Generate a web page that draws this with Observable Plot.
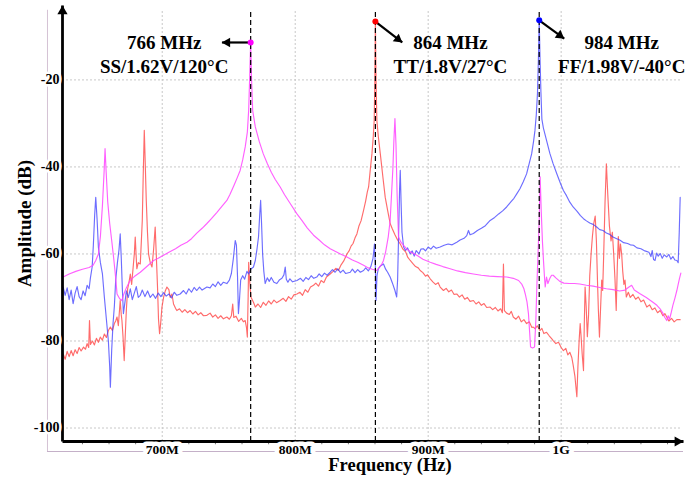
<!DOCTYPE html>
<html>
<head>
<meta charset="utf-8">
<script src="https://cdn.jsdelivr.net/npm/d3@7"></script>
<script src="https://cdn.jsdelivr.net/npm/@observablehq/plot@0.6"></script>
<style>
  html, body { margin: 0; padding: 0; background: #fff; }
  #chart { width: 686px; height: 482px; }
</style>
</head>
<body>
<div id="chart"></div>
<script>
// ---- Data (frequency in MHz, amplitude in dB) ----
const xTicks = [700, 800, 900, 1000];
const xTickLabels = ["700M", "800M", "900M", "1G"];
const yTicks = [-20, -40, -60, -80, -100];
const minorTicks = [640, 660, 680, 700, 720, 740, 760, 780, 800, 820, 840, 860, 880, 900, 920, 940, 960, 980, 1000, 1020, 1040, 1060, 1080];

const peakFreq = [766.5, 860.3, 983.5];
const peakDb = [-11.4, -6.6, -6.3];
const peakLabels = ["766 MHz\nSS/1.62V/120°C", "864 MHz\nTT/1.8V/27°C", "984 MHz\nFF/1.98V/-40°C"];

// SS corner (magenta)
const ssData = [
[625.5,-65.3],[630,-64.6],[635,-64],[640,-63.5],[645,-63.1],[648,-62.6],[650,-61.5],[652,-60],[653.5,-56],[655,-49],
[656.3,-41],[657,-35.8],[657.8,-41],[659,-48],[660.5,-53],[662,-56.9],[663.5,-61],[665,-65.5],[666,-69.2],[668,-70.3],
[669.7,-70.7],[671,-69.3],[673,-67.8],[676,-66],[679,-65.2],[683.5,-64.2],[688,-63],[693.5,-61.5],[697,-61],[701,-60.3],
[705,-59.6],[710,-58.8],[714,-58],[718.6,-57.3],[722,-56.5],[726,-55.2],[730,-54.1],[733.6,-53],[737,-51.9],[741,-50.5],
[745,-49],[748.6,-47.7],[751,-46.3],[754,-44.2],[756.5,-42.4],[758.6,-40.8],[760.5,-38.4],[762.4,-35.4],[764,-32],[765,-27],
[765.7,-20],[766.5,-11.4],[767.2,-20],[768,-27],[770,-30.8],[773,-34.2],[776,-37],[779,-39.2],[782,-41.2],[785,-42.9],
[788.7,-44.6],[792,-46.4],[796,-48.3],[801.3,-50.8],[805,-52.3],[809,-54],[813.8,-55.7],[818,-56.8],[822,-57.9],[826.3,-58.8],
[830,-59.4],[834,-60],[838.9,-60.7],[843,-61.4],[847,-61.9],[851.4,-62.6],[855,-63.2],[858,-63.5],[861.4,-63.8],[863,-63.2],
[865,-62.4],[866.4,-61.5],[868,-59.5],[870,-56],[871.4,-52.3],[872.5,-46],[873.5,-40],[874.2,-34],[875,-28.9],[875.8,-35],
[876.6,-46],[877.7,-56.1],[879.5,-57.3],[881.5,-58],[884,-58.9],[887,-59.6],[891.5,-60.3],[896,-61.2],[901.5,-61.9],[906,-62.4],
[911,-62.9],[916.5,-63.4],[922,-63.9],[928,-64.3],[934,-64.6],[940,-64.9],[946,-65.1],[952,-65.2],[959,-65.3],[964,-65.6],
[968,-66.1],[970.5,-67],[972,-68],[973,-69.2],[974.3,-71],[975.4,-73.7],[976.3,-78],[977,-81.4],[978.5,-81.6],[980,-81.4],
[981,-75],[981.7,-67.6],[982.6,-60],[983.5,-52.3],[984.2,-42.3],[985,-50],[985.9,-57],[986.7,-61.5],[987.4,-65],[988,-67.6],
[989,-65.3],[990,-66.8],[991.5,-65.6],[992.8,-64.9],[994,-64.9],[996,-65.5],[999,-66.3],[1002,-66.7],[1006,-66.8],[1010,-66.8],
[1014,-66.9],[1019,-67.2],[1024,-67.4],[1029,-67.7],[1034,-68],[1039,-68.2],[1044,-68.5],[1048,-68.3],[1051,-67.6],[1053,-67.2],
[1055,-68.3],[1059,-69.1],[1064,-70],[1069,-71.1],[1072,-71.8],[1074.4,-72.6],[1076.5,-73.6],[1078,-74.6],[1079.4,-75.3],[1080.5,-74.2],
[1081.5,-75],[1082.5,-73.8],[1084,-71.8],[1085.5,-70.2],[1087,-68.4],[1088,-67],[1089,-65.6],[1090,-64.4]
];

// TT corner (red)
const ttData = [
[625.5,-83],[627,-84.2],[628.5,-82.4],[630,-83.6],[631.5,-82.2],[633,-83.4],[634.5,-82],[636,-82.9],[637.5,-81.5],[639,-82.3],
[640.8,-81.4],[642.3,-81.9],[643.5,-80.6],[644.7,-81.5],[645.3,-75.3],[646,-80.8],[647.5,-80],[649,-80.9],[650.5,-79.4],[652,-80.3],
[653.4,-79.1],[655,-79.8],[656.5,-78.4],[658,-79.2],[659.5,-77.6],[661,-76.8],[662.5,-77.6],[664,-76],[665,-75.4],[666,-74.5],
[667,-76.5],[668.4,-70.7],[669.2,-74],[669.7,-75.3],[670.5,-79],[671.4,-84.5],[672.3,-78],[673,-73],[674,-68],[675,-66.5],
[676,-64.6],[677,-67],[678,-63.5],[679,-60],[679.7,-56.1],[680.3,-60],[680.9,-63.4],[682,-62],[683.5,-62.3],[684.3,-57],
[685,-52.3],[685.7,-42],[686.5,-31.6],[687.3,-40],[688,-47.7],[688.9,-55],[689.7,-60],[691,-62],[692.3,-63],[693.5,-59],
[694.7,-53.8],[695.5,-60],[696.5,-68],[697.2,-75],[698,-78.3],[698.8,-76],[699.8,-72.2],[701,-70],[702.3,-68.5],[703.5,-67.6],
[705,-68.2],[706,-70],[707.3,-69.2],[708.5,-71.5],[710,-72.5],[711,-73],[713,-72.6],[715,-73.4],[717,-72.8],[719,-73.5],
[721,-73],[723,-73.8],[725,-73.2],[727,-74],[729,-73.5],[731,-74.2],[733.6,-74.1],[736,-73.6],[738,-74.5],[740,-74],
[742,-74.8],[744,-74.2],[746,-74.9],[748.6,-74.5],[750.5,-75],[752,-74.2],[753,-71.5],[753.8,-74.6],[755.5,-74.3],[757.5,-75.5],
[759.5,-74.8],[761,-75.6],[762.4,-75.3],[763.4,-77],[764,-79.1],[764.6,-70],[765,-61.9],[765.7,-66],[766.7,-69.9],[768.6,-71.1],
[770,-72.2],[772,-71.5],[774,-72.3],[776,-71.1],[778,-71.8],[780,-70.8],[782,-71.5],[784,-70.6],[786,-71.2],[788.7,-70.7],
[791,-70.2],[793,-70.9],[795,-69.8],[797,-70.4],[799,-69.4],[801.3,-69.2],[803.5,-68.8],[805.5,-69.5],[807.5,-68.2],[809.5,-68.8],
[811.5,-67.6],[813.8,-67.2],[815.5,-66.7],[817.5,-67.4],[819.5,-66.1],[821.5,-66.6],[823.5,-65.3],[826.3,-64.6],[828.5,-64],[830.5,-63.3],
[832.5,-63.8],[834.5,-62.5],[836.5,-61.6],[838.9,-60],[840.5,-59.3],[842,-58.2],[843.5,-57.6],[845,-56.3],[846.4,-55.4],[848,-53.5],
[849.5,-52.4],[851.4,-50],[853,-47.8],[854.2,-45.8],[855.2,-44.6],[856.5,-40.5],[857.7,-37],[858.7,-33],[859.4,-29.3],[859.9,-20],
[860.3,-6.6],[860.8,-20],[861.4,-29.3],[862.5,-33],[864,-37],[866,-42.5],[867.7,-47],[869.5,-50],[871.4,-53],[873,-54.2],
[875,-55.6],[877,-56.8],[879,-57.7],[881,-58.9],[883,-59.5],[884.7,-60.8],[886.5,-61.5],[888.5,-62.2],[890.5,-62.9],[892.5,-63.2],
[894,-63.8],[896,-64.3],[898,-65.1],[899.5,-64.8],[901.5,-65.7],[903.5,-66.4],[905.5,-67],[907.5,-66.6],[909,-67.6],[911.5,-68.4],
[913.5,-67.9],[915.5,-68.7],[917.5,-68.3],[919.5,-69.3],[921.5,-69.2],[923.5,-69.9],[925.5,-69.4],[927.5,-70.4],[929.5,-70],[931.5,-70.9],
[934,-70.7],[936,-71.5],[938,-71],[940,-71.8],[942,-71.4],[944,-72.3],[946.6,-72.2],[948.5,-72.8],[950.5,-72.3],[952.5,-73.1],
[954.5,-72.6],[955.8,-73.5],[956.6,-62.3],[957.3,-73],[959,-73.6],[961,-73.9],[962.5,-73.2],[964,-74.5],[966,-75],[968,-74.3],
[970,-75.6],[972,-75.1],[974,-76],[976,-75.6],[978,-76.9],[979,-76.8],[980.5,-77.2],[982,-76.5],[984,-77.6],[985.5,-77.1],
[987,-78.3],[989,-78],[991,-78.8],[993,-79.5],[994,-79.9],[996,-80.6],[998,-80.3],[1000,-81.5],[1001.7,-82.2],[1003.5,-81.7],
[1005,-83.2],[1006.5,-82.6],[1008,-83.8],[1009,-85.5],[1010.3,-88],[1011.8,-92.8],[1012.6,-86],[1013.5,-80],[1014.3,-76],[1015,-79],
[1015.8,-83],[1016.8,-86.8],[1017.4,-76],[1018,-67.6],[1018.8,-72],[1019.7,-79],[1020.6,-74],[1021.5,-65],[1022.5,-60],[1023.5,-56],
[1024.5,-53],[1025.6,-51.3],[1026.5,-57],[1027.3,-66],[1028,-73],[1028.8,-79.1],[1029.7,-72],[1030.5,-66],[1031.2,-68.4],[1032,-60],
[1033,-48],[1034,-39.3],[1035,-46],[1036.3,-53.6],[1037.5,-57],[1038.5,-55],[1039.5,-60],[1040.5,-66],[1041.4,-73],[1042.2,-63],
[1043,-56],[1043.8,-61],[1044.6,-57.7],[1045.5,-60],[1046.3,-64],[1047.2,-67],[1048,-66],[1049,-69.9],[1050.5,-68.8],[1052,-70],
[1054,-69.3],[1056,-70.4],[1058,-69.9],[1060,-71],[1062,-70.6],[1064.4,-72.2],[1066.5,-71.7],[1068.5,-72.8],[1070.5,-72.4],[1072.5,-73.5],
[1074.5,-73],[1076.5,-74.2],[1078,-73.7],[1079.4,-74.5],[1081,-75.4],[1083,-74.8],[1085,-75.6],[1087,-75.1],[1089.5,-75.1]
];

// FF corner (blue)
const ffData = [
[625.5,-67.6],[627,-69.5],[628.5,-67.8],[630,-70.5],[631.5,-68.3],[633,-71.4],[634.5,-69],[636,-67.5],[637.5,-69.8],[639,-70.5],
[640.5,-68.5],[642,-69.6],[643.5,-67.2],[645,-68],[646,-65.5],[647.3,-63],[648.2,-58],[649.2,-51],[650,-47],[651,-52],
[652,-58.5],[653.5,-62],[655,-64.5],[656.5,-70],[658,-75],[659.5,-80],[660.5,-86],[661,-90.6],[662,-82],[663,-76],
[664,-72],[665,-66],[666.3,-62],[667.5,-59],[668.4,-55.4],[669.2,-61],[670,-68],[670.8,-73.7],[672,-71],[673,-68.5],
[674.5,-70],[676,-68],[677.5,-70.5],[679,-69],[680.5,-67.5],[682,-70],[683.5,-69.5],[685,-68.3],[687,-69.8],[689,-68.5],
[691,-70],[693,-69.2],[695,-70.2],[697,-69],[699,-69.8],[701,-68.9],[703,-69.7],[705,-69.2],[707,-70.1],[709,-68.8],
[711,-69.5],[713.5,-69.2],[716,-68.4],[718,-69.2],[720,-68],[722,-68.8],[724,-67.7],[726,-68.4],[728,-67.6],[730,-68.3],
[733.6,-67.6],[736,-67.8],[738,-66.9],[740,-67.5],[742,-66.4],[744,-67.2],[746,-66.5],[748.6,-66.8],[750.5,-66],[752,-64.5],
[753.5,-61],[754.9,-56.9],[755.8,-58],[756.6,-65],[757.3,-73.7],[758,-71],[759,-66],[760.5,-65],[762,-65.8],[763.7,-64],
[765,-64.6],[766.5,-63.5],[768.6,-63],[770,-61.5],[771.2,-59],[772.4,-56.1],[773.3,-51],[774,-47.7],[774.7,-53],[775.5,-60],
[776.4,-64],[777.4,-66.8],[779,-65.5],[780.5,-66.3],[782,-65.4],[784,-66.5],[786.2,-66.8],[788,-66],[790,-65.6],[791.5,-64.8],
[792.5,-63],[793.3,-65.8],[794.5,-66.5],[796,-65.7],[798,-66.4],[801.3,-66.1],[804,-65.6],[806,-66.3],[808,-65.4],[810,-65.9],
[812,-65],[814,-65.6],[816.2,-65.3],[818,-64.6],[820,-65.2],[822,-64.4],[824,-64.9],[826.3,-64.2],[828,-63.6],[830,-64.2],
[832,-63.4],[834,-64.3],[836,-63.7],[838,-64.5],[841.4,-64.2],[843,-63.5],[845,-64.3],[847,-63.6],[849,-64.2],[851.4,-63.8],
[853,-63.2],[855,-63.9],[857,-62.8],[858.5,-61],[859.6,-57.7],[860.3,-63],[860.8,-70.7],[861.5,-65],[862.5,-63.4],[864,-62.8],
[866.4,-62.3],[868,-63.5],[869.5,-64.2],[871.4,-65.3],[873,-66.6],[875,-68.4],[876.3,-69.9],[877,-66],[877.8,-55],[878.5,-45],
[879,-40.8],[879.6,-48],[880.3,-55],[881.5,-58.4],[883,-59.2],[884.5,-58.6],[886.5,-60],[888,-59.3],[889.5,-60.5],[891,-59.2],
[893,-60],[894.5,-58.9],[896.4,-58.8],[898,-59.3],[900,-58.4],[902,-58.9],[904,-58.2],[906,-58.7],[909,-58.4],[912,-58],
[915,-57.7],[918,-57.9],[921.5,-57.3],[924,-56.8],[927,-56.4],[929,-55.8],[930.3,-54.6],[931.5,-55.6],[934,-55.3],[937,-54.6],
[940,-54.1],[943,-53.5],[946.6,-52.3],[950,-51.6],[953,-50.8],[956,-50.1],[959,-49.2],[962,-48.1],[964.5,-47.2],[966.6,-46.2],
[969,-45],[971.5,-43.4],[974,-41.6],[976,-39.2],[977.8,-37],[979.3,-34],[980.3,-31.6],[981.3,-28],[982.2,-23],[982.9,-15],
[983.5,-6.3],[984.1,-15],[984.8,-23],[985.5,-29],[986.6,-31],[989,-33.9],[991.5,-36.9],[994,-39.3],[997,-41.8],[999.5,-43.8],
[1001.7,-45.4],[1004,-46.6],[1006.5,-48.1],[1009,-49.2],[1012,-50.2],[1014.5,-51.2],[1016.8,-51.9],[1019,-52.4],[1021.5,-52.9],[1024,-53.2],
[1026.7,-53.8],[1029,-54.4],[1031.5,-54.6],[1034,-55.2],[1036.5,-55.5],[1039,-56.1],[1041.8,-56.5],[1044,-56.8],[1047,-57.4],[1050,-57.6],
[1052,-57.9],[1054.4,-58],[1057,-58.6],[1060,-58.8],[1063,-59.3],[1066,-59.6],[1067.5,-60.6],[1068.5,-59.2],[1069.5,-61.3],[1070.6,-61.5],
[1071.8,-59.8],[1073,-60.5],[1074.5,-59.9],[1076,-61],[1077.5,-60.2],[1079.4,-60.7],[1081,-60.1],[1082.5,-61.2],[1084,-60.6],[1085.5,-61.4],
[1087,-61.5],[1088,-62],[1088.8,-55],[1089.5,-47]
];

// ---- Styling / layout ----
const FONT = "'Liberation Serif', 'Times New Roman', serif";
const X0 = 625, X1 = 1092, Y0 = -103.1, Y1 = -2.9;
const frameX = 613.7, frameY = -105.4;
const peakColors = ["#ff00ff", "#ff0000", "#0000ff"];
const lineColors = ["#ff44ff", "#ff3a3a", "#3c3cff"];

// label offsets (pixels) relative to each peak
const labelDx = [-86.5, 75, 82.5];
const labelDy = [11, 32, 33];
// arrow end offsets (data units) relative to each peak; head rotation & pull-back (px)
const arrowDx = [-21.6, 20.2, 18.8];
const arrowDy = [0, -4.8, -4.2];
const headRot = [-90, 127.9, 125.7];
const headDx = [5.4, -4.3, -4.4];
const headDy = [0, -3.3, -3.2];

const ann = peakFreq.map((f, i) => ({
  f, db: peakDb[i], label: peakLabels[i], color: peakColors[i],
  f2: f + arrowDx[i], db2: peakDb[i] + arrowDy[i]
}));

const chart = Plot.plot({
  width: 686,
  height: 482,
  marginLeft: 62,
  marginRight: 3,
  marginTop: 5,
  marginBottom: 41,
  x: {domain: [X0, X1], axis: null},
  y: {domain: [Y0, Y1], axis: null},
  style: {background: "white", fontFamily: FONT},
  marks: [
    // light outer frame lines
    Plot.ruleX([frameX], {y1: frameY, y2: -4.0, stroke: "#d4c2d4", strokeWidth: 1}),
    Plot.ruleY([frameY], {x1: frameX, x2: X1, stroke: "#c4b0c8", strokeWidth: 1}),
    // grid
    Plot.ruleY(yTicks, {x1: X0, x2: 1090, stroke: "#c8c8c8", strokeDasharray: "2,2", strokeWidth: 1}),
    Plot.ruleX(xTicks, {y1: Y0, y2: -4.0, stroke: "#c8c8c8", strokeDasharray: "2,2", strokeWidth: 1}),
    // spectra
    Plot.line(ttData, {x: d => d[0], y: d => d[1], stroke: lineColors[1], strokeWidth: 1.15, strokeOpacity: 0.75}),
    Plot.line(ffData, {x: d => d[0], y: d => d[1], stroke: lineColors[2], strokeWidth: 1.15, strokeOpacity: 0.75}),
    Plot.line(ssData, {x: d => d[0], y: d => d[1], stroke: lineColors[0], strokeWidth: 1.15, strokeOpacity: 0.85}),
    // peak markers
    Plot.ruleX(peakFreq, {y1: Y0, y2: -4.0, stroke: "black", strokeWidth: 1.2, strokeDasharray: "5,3"}),
    Plot.link(ann, {x1: "f", y1: "db", x2: "f2", y2: "db2", stroke: "black", strokeWidth: 2.2}),
    ...ann.map((a, i) => Plot.dot([a], {
      x: "f2", y: "db2", symbol: "triangle", r: 3.6, fill: "black", stroke: "none",
      rotate: headRot[i], dx: headDx[i], dy: headDy[i]
    })),
    Plot.dot(ann, {x: "f", y: "db", r: 3, fill: "color", stroke: "none"}),
    ...ann.map((a, i) => Plot.text([a], {
      x: "f", y: "db", text: "label",
      dx: labelDx[i], dy: labelDy[i], fontSize: 19, fontWeight: "bold",
      lineHeight: 1.27, fill: "black", textAnchor: "middle", lineAnchor: "middle"
    })),
    // axes
    Plot.ruleX(minorTicks, {y1: Y0 - 0.15, y2: Y0 - 0.75, stroke: "#777", strokeWidth: 1}),
    Plot.link([0], {x1: X0, y1: Y0, x2: X1, y2: Y0, stroke: "black", strokeWidth: 2.8}),
    Plot.link([0], {x1: X0, y1: Y0, x2: X0, y2: Y1, stroke: "black", strokeWidth: 2.8}),
    Plot.dot([0], {x: X1, y: Y0, symbol: "triangle", r: 3.8, fill: "black", stroke: "none", rotate: 90, dx: -5.9}),
    Plot.dot([0], {x: X0, y: Y1, symbol: "triangle", r: 3.8, fill: "black", stroke: "none", rotate: 0, dy: 5.9}),
    Plot.text(yTicks, {
      frameAnchor: "left", y: d => d, text: d => String(d), textAnchor: "end", dx: -3,
      fontSize: 14, fontWeight: "bold", fill: "black", stroke: "white", strokeWidth: 5, paintOrder: "stroke"
    }),
    Plot.text(xTicks, {
      x: d => d, y: frameY, text: (d, i) => xTickLabels[i], textAnchor: "middle", dy: -2,
      fontSize: 13.5, fontWeight: "bold", fill: "black", stroke: "white", strokeWidth: 9, paintOrder: "stroke"
    }),
    // axis titles
    Plot.text(["Frequency (Hz)"], {frameAnchor: "bottom", text: d => d, dx: 17, dy: 24, lineAnchor: "middle", fontSize: 18.5, fontWeight: "bold", fill: "black"}),
    Plot.text(["Amplitude (dB)"], {frameAnchor: "left", text: d => d, dx: -38, rotate: -90, textAnchor: "middle", lineAnchor: "middle", fontSize: 19, fontWeight: "bold", fill: "black"})
  ]
});

document.getElementById("chart").appendChild(chart);
</script>
</body>
</html>
